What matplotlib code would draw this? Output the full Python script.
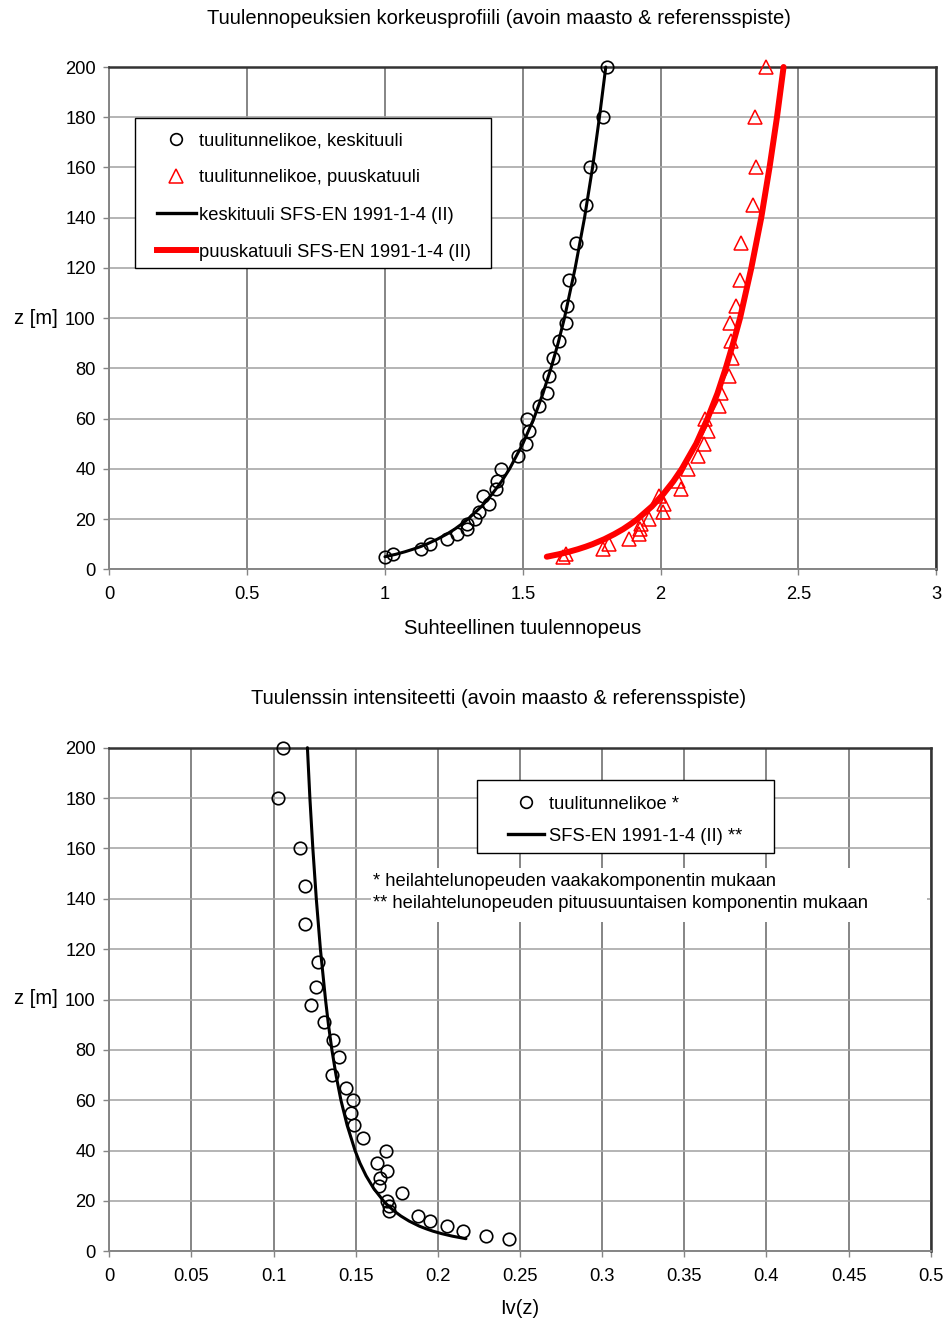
import matplotlib
matplotlib.use('Agg')
import matplotlib.pyplot as plt
from matplotlib.lines import Line2D
from matplotlib.patches import Rectangle

plt.rcParams['font.family'] = ['Liberation Sans', 'DejaVu Sans']

W, H = 951, 1321

# ---------------- data ----------------
z_meas = [5, 6, 8, 10, 12, 14, 16, 18, 20, 23, 26, 29, 32, 35, 40, 45, 50, 55,
          60, 65, 70, 77, 84, 91, 98, 105, 115, 130, 145, 160, 180, 200]
mean_meas = [1.000, 1.030, 1.132, 1.163, 1.226, 1.262, 1.299, 1.296, 1.325, 1.340,
             1.377, 1.356, 1.403, 1.406, 1.422, 1.484, 1.512, 1.521, 1.515, 1.557,
             1.588, 1.596, 1.609, 1.633, 1.657, 1.662, 1.668, 1.694, 1.729, 1.743,
             1.791, 1.805]
gust_meas = [1.646, 1.657, 1.790, 1.811, 1.886, 1.920, 1.925, 1.930, 1.958, 2.010,
             2.013, 1.995, 2.075, 2.063, 2.101, 2.137, 2.159, 2.171, 2.160, 2.210,
             2.218, 2.247, 2.260, 2.256, 2.250, 2.273, 2.287, 2.290, 2.336, 2.346,
             2.343, 2.383]
iv_meas = [0.2430, 0.2290, 0.2150, 0.2053, 0.1950, 0.1882, 0.1700, 0.1700, 0.1693,
           0.1779, 0.1644, 0.1648, 0.1689, 0.1628, 0.1685, 0.1542, 0.1489, 0.1469,
           0.1481, 0.1440, 0.1353, 0.1400, 0.1359, 0.1308, 0.1226, 0.1257, 0.1271,
           0.1190, 0.1190, 0.1159, 0.1029, 0.1057]

z_curve = [5, 6, 7, 8, 9, 10, 12, 14, 16, 18, 20, 25, 30, 35, 40, 50, 60, 70, 80,
           90, 100, 120, 140, 160, 180, 200]
mean_curve = [1.000, 1.040, 1.073, 1.102, 1.128, 1.151, 1.190, 1.224, 1.253, 1.278,
              1.301, 1.350, 1.389, 1.423, 1.452, 1.500, 1.540, 1.573, 1.602, 1.628,
              1.651, 1.690, 1.724, 1.753, 1.778, 1.801]
gust_curve = [1.587, 1.631, 1.668, 1.700, 1.728, 1.753, 1.796, 1.832, 1.864, 1.891,
              1.916, 1.968, 2.010, 2.046, 2.077, 2.129, 2.170, 2.206, 2.236, 2.263,
              2.288, 2.329, 2.365, 2.395, 2.422, 2.446]
iv_curve = [0.2171, 0.2089, 0.2024, 0.1970, 0.1926, 0.1887, 0.1825, 0.1775, 0.1734,
            0.1699, 0.1669, 0.1609, 0.1563, 0.1526, 0.1496, 0.1448, 0.1410, 0.1380,
            0.1355, 0.1334, 0.1316, 0.1285, 0.1260, 0.1239, 0.1221, 0.1206]

y_ticks = [0, 20, 40, 60, 80, 100, 120, 140, 160, 180, 200]
y_ticklabels = [str(v) for v in y_ticks]
top_xticks = [0, 0.5, 1, 1.5, 2, 2.5, 3]
top_xticklabels = ['0', '0.5', '1', '1.5', '2', '2.5', '3']
bot_xticks = [0, 0.05, 0.1, 0.15, 0.2, 0.25, 0.3, 0.35, 0.4, 0.45, 0.5]
bot_xticklabels = ['0', '0.05', '0.1', '0.15', '0.2', '0.25', '0.3', '0.35', '0.4', '0.45', '0.5']

top_title = 'Tuulennopeuksien korkeusprofiili (avoin maasto & referensspiste)'
bot_title = 'Tuulenssin intensiteetti (avoin maasto & referensspiste)'
top_xlabel = 'Suhteellinen tuulennopeus'
bot_xlabel = 'Iv(z)'
ylabel = 'z [m]'
top_legend = ['tuulitunnelikoe, keskituuli', 'tuulitunnelikoe, puuskatuuli',
              'keskituuli SFS-EN 1991-1-4 (II)', 'puuskatuuli SFS-EN 1991-1-4 (II)']
bot_legend = ['tuulitunnelikoe *', 'SFS-EN 1991-1-4 (II) **']
note_lines = ['* heilahtelunopeuden vaakakomponentin mukaan',
              '** heilahtelunopeuden pituusuuntaisen komponentin mukaan']

FS = 13.2      # ticks, legends, notes
FS_T = 14.5    # titles, axis labels
fig = plt.figure(figsize=(W / 100, H / 100), dpi=100)


def fx(px):
    return px / W


def fy(py):
    return 1 - py / H


def make_axes(l, t, r, b, xlim, xticks, xticklabels):
    ax = fig.add_axes([fx(l), fy(b), fx(r) - fx(l), fy(t) - fy(b)])
    ax.set_xlim(*xlim)
    ax.set_ylim(0, 200)
    ax.set_xticks(xticks)
    ax.set_xticklabels(xticklabels)
    ax.set_yticks(y_ticks)
    ax.set_yticklabels(y_ticklabels)
    ax.set_axisbelow(True)
    ax.grid(axis='x', color='#858585', lw=1.4)
    ax.grid(axis='y', color='#a8a8a8', lw=1.2)
    for s in ['left', 'bottom']:
        ax.spines[s].set_color('#858585')
        ax.spines[s].set_linewidth(1.4)
    for s in ['top', 'right']:
        ax.spines[s].set_color('#333333')
        ax.spines[s].set_linewidth(1.8)
    ax.tick_params(axis='both', direction='out', length=4.3, width=1.0,
                   color='#858585', labelsize=FS, labelcolor='black')
    ax.tick_params(axis='x', pad=8.0)
    ax.tick_params(axis='y', pad=5.5)
    return ax


def add_box(ax, l, t, r, b, ec='black', lw=1.0, z=3):
    ax.add_patch(Rectangle((fx(l), fy(b)), fx(r) - fx(l), fy(t) - fy(b),
                           transform=fig.transFigure, facecolor='white',
                           edgecolor=ec, lw=lw, zorder=z, clip_on=False))


# ---------------- top chart ----------------
ax1 = make_axes(109.3, 67, 936.3, 569.3, (0, 3), top_xticks, top_xticklabels)
ax1.plot(mean_meas, z_meas, linestyle='none', marker='o', ms=9.0, mfc='none',
         mec='black', mew=1.2, zorder=4, clip_on=False)
ax1.plot(gust_meas, z_meas, linestyle='none', marker='^', ms=10.0, mfc='none',
         mec='#ff0000', mew=1.1, zorder=4, clip_on=False)
ax1.plot(mean_curve, z_curve, color='black', lw=2.2, zorder=5, clip_on=False,
         solid_capstyle='round')
ax1.plot(gust_curve, z_curve, color='#ff0000', lw=4.3, zorder=5, clip_on=False,
         solid_capstyle='round')

add_box(ax1, 135.3, 118.3, 491.3, 268.3)
h1 = [Line2D([], [], linestyle='none', marker='o', ms=8.4, mfc='none', mec='black', mew=1.2),
      Line2D([], [], linestyle='none', marker='^', ms=9.5, mfc='none', mec='#ff0000', mew=1.1),
      Line2D([], [], color='black', lw=2.4),
      Line2D([], [], color='#ff0000', lw=4.3)]
leg1 = ax1.legend(h1, top_legend, loc='upper left',
                  bbox_to_anchor=(fx(156.7), fy(132.2)), bbox_transform=fig.transFigure,
                  frameon=False, fontsize=FS, borderpad=0, borderaxespad=0,
                  handlelength=2.13, handletextpad=0.18, labelspacing=1.1)
leg1.set_zorder(6)

fig.text(fx(499), fy(18), top_title, ha='center', va='center', fontsize=FS_T)
fig.text(fx(522.8), fy(628), top_xlabel, ha='center', va='center', fontsize=FS_T)
fig.text(fx(36), fy(319), ylabel, ha='center', va='center', fontsize=FS_T)

# ---------------- bottom chart ----------------
ax2 = make_axes(109.3, 747.7, 930.7, 1251.3, (0, 0.5), bot_xticks, bot_xticklabels)
ax2.plot(iv_meas, z_meas, linestyle='none', marker='o', ms=9.0, mfc='none',
         mec='black', mew=1.2, zorder=4, clip_on=False)
ax2.plot(iv_curve, z_curve, color='black', lw=2.2, zorder=5, clip_on=False,
         solid_capstyle='round')

add_box(ax2, 476.7, 780, 774, 852.7)
h2 = [Line2D([], [], linestyle='none', marker='o', ms=8.4, mfc='none', mec='black', mew=1.2),
      Line2D([], [], color='black', lw=2.4)]
leg2 = ax2.legend(h2, bot_legend, loc='upper left',
                  bbox_to_anchor=(fx(507.7), fy(795.6)), bbox_transform=fig.transFigure,
                  frameon=False, fontsize=FS, borderpad=0, borderaxespad=0,
                  handlelength=2.0, handletextpad=0.25, labelspacing=0.82)
leg2.set_zorder(6)

# note with white background
ax2.add_patch(Rectangle((fx(371), fy(922)), fx(927) - fx(371), fy(868) - fy(922),
                        transform=fig.transFigure, facecolor='white', edgecolor='none',
                        zorder=1.5, clip_on=False))
fig.text(fx(373.3), fy(881.7), note_lines[0], ha='left', va='center', fontsize=FS)
fig.text(fx(373.3), fy(904), note_lines[1], ha='left', va='center', fontsize=FS)

fig.text(fx(499), fy(699), bot_title, ha='center', va='center', fontsize=FS_T)
fig.text(fx(520), fy(1309), bot_xlabel, ha='center', va='center', fontsize=FS_T)
fig.text(fx(36), fy(998), ylabel, ha='center', va='center', fontsize=FS_T)

fig.savefig('out.png', dpi=100)
